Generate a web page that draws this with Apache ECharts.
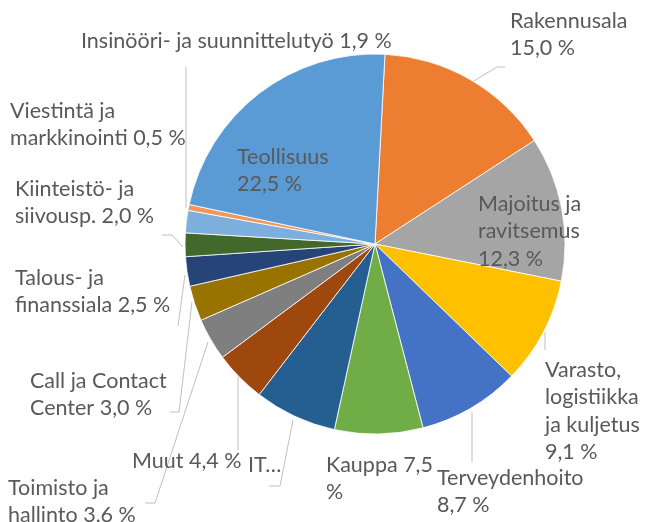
<!DOCTYPE html>
<html><head><meta charset="utf-8">
<script src="https://cdn.jsdelivr.net/npm/echarts@6/dist/echarts.min.js"></script>
<style>html,body{margin:0;padding:0;background:#fff}#c{width:646px;height:522px}</style>
</head><body><div id="c"></div>
<script>
// Data (clockwise from top)
const categories = ["Rakennusala","Majoitus ja ravitsemus","Varasto, logistiikka ja kuljetus","Terveydenhoito","Kauppa","IT…","Muut","Toimisto ja hallinto","Call ja Contact Center","Talous- ja finanssiala","Kiinteistö- ja siivousp.","Insinööri- ja suunnittelutyö","Viestintä ja markkinointi","Teollisuus"];
const values = [15.0,12.3,9.1,8.7,7.5,7.0,4.4,3.6,3.0,2.5,2.0,1.9,0.5,22.5];
// Label text templates as wrapped in the reference ({n} = value, {u} = unit)
const labelTemplates = ["Rakennusala\n{n} {u}","Majoitus ja\nravitsemus\n{n} {u}","Varasto,\nlogistiikka\nja kuljetus\n{n} {u}","Terveydenhoito\n{n} {u}","Kauppa {n}\n{u}","IT…","Muut {n} {u}","Toimisto ja\nhallinto {n} {u}","Call ja Contact\nCenter {n} {u}","Talous- ja\nfinanssiala {n} {u}","Kiinteistö- ja\nsiivousp. {n} {u}","Insinööri- ja suunnittelutyö {n} {u}","Viestintä ja\nmarkkinointi {n} {u}","Teollisuus\n{n} {u}"];

// Styling / layout (not data)
const colors = ["#ED7D31","#A5A5A5","#FFC000","#4472C4","#70AD47","#255E91","#9E480E","#7F7F7F","#997300","#264478","#43682B","#7CAFDD","#F1975A","#5B9BD5"];
const labelPos = [[510,7],[478,190],[545,356],[437,464],[326,451],[248,451],[132,447],[8,474],[30,367],[15,264],[15,175],[81,27],[10,97],[237,143]];
const linePts = [
  [[472,82],[497,67],[505,67]],
  null,
  [[545,332],[545,350]],
  [[472,412],[472,462]],
  null,
  [[293,420],[280,486],[269,486]],
  [[238,376],[238,450]],
  [[208,342],[155,503],[145,503]],
  [[192,302],[179,412],[170,412]],
  [[185,275],[178,326]],
  [[183,247],[172,235],[162,235]],
  [[186,208],[186,67]],
  null,
  null
];

function labelText(i){
  return labelTemplates[i].replace('{n}', values[i].toFixed(1).replace('.', ',')).replace('{u}', '%');
}

const chart = echarts.init(document.getElementById('c'), null, {renderer:'canvas'});
chart.setOption({
  animation:false,
  series:[{
    type:'pie',
    center:[375,244],
    radius:[0,190],
    startAngle:87,
    clockwise:true,
    avoidLabelOverlap:false,
    itemStyle:{borderColor:'#ffffff',borderWidth:0.8},
    label:{
      show:true,
      color:'#595959',
      fontFamily:'Lato, "Noto Sans", sans-serif',
      fontSize:21.5,
      lineHeight:27.5,
      formatter:function(p){ return labelText(p.dataIndex); }
    },
    labelLine:{show:true,lineStyle:{color:'#BFBFBF',width:1},smooth:false},
    labelLayout:function(p){
      const i=p.dataIndex;
      const o={x:labelPos[i][0],y:labelPos[i][1],align:'left',verticalAlign:'top'};
      if(linePts[i]) o.labelLinePoints=linePts[i];
      return o;
    },
    data:categories.map((n,i)=>({name:n,value:values[i],itemStyle:{color:colors[i]},labelLine:{show:!!linePts[i]}}))
  }]
});
</script>
</body></html>
